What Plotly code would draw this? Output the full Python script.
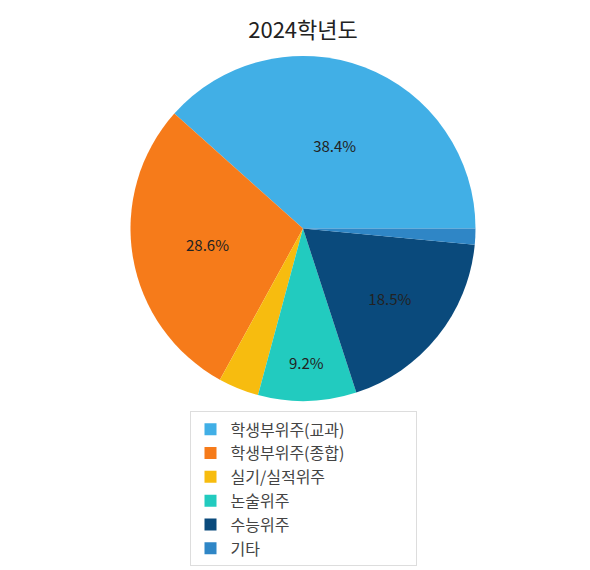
import plotly.graph_objects as go

labels = ["학생부위주(교과)", "학생부위주(종합)", "실기/실적위주", "논술위주", "수능위주", "기타"]
values = [38.4, 28.6, 3.8, 9.2, 18.5, 1.5]
colors = ["#41afe6", "#f67b1a", "#f7bc0f", "#22cbbf", "#0a4a7c", "#2f86c6"]
text = [f"{v}%" if v > 5 else "" for v in values]

rot = 90 - values[0] / sum(values) * 360

fig = go.Figure(go.Pie(
    labels=labels, values=values, sort=False, direction="counterclockwise", rotation=rot,
    marker=dict(colors=colors, line=dict(color="white", width=0)),
    text=text, textinfo="text", textposition="inside", insidetextorientation="horizontal",
    textfont=dict(color="#222", size=15, family="Noto Sans CJK KR"),
    hoverinfo="label+percent",
))
fig.update_layout(
    width=590, height=570, paper_bgcolor="white",
    font=dict(family="Noto Sans CJK KR", color="#333"),
    title=dict(text="2024학년도", x=0.5, xanchor="center", y=0.975, font=dict(size=22, color="#222")),
    margin=dict(l=80, r=80, t=48, b=100),
    legend=dict(orientation="h", x=0.5, xanchor="center", y=-0.03, yanchor="top",
                bordercolor="#ddd", borderwidth=1, font=dict(size=16, color="#444"),
                entrywidth=180, itemwidth=30),
)
fig.write_html("out.html")
